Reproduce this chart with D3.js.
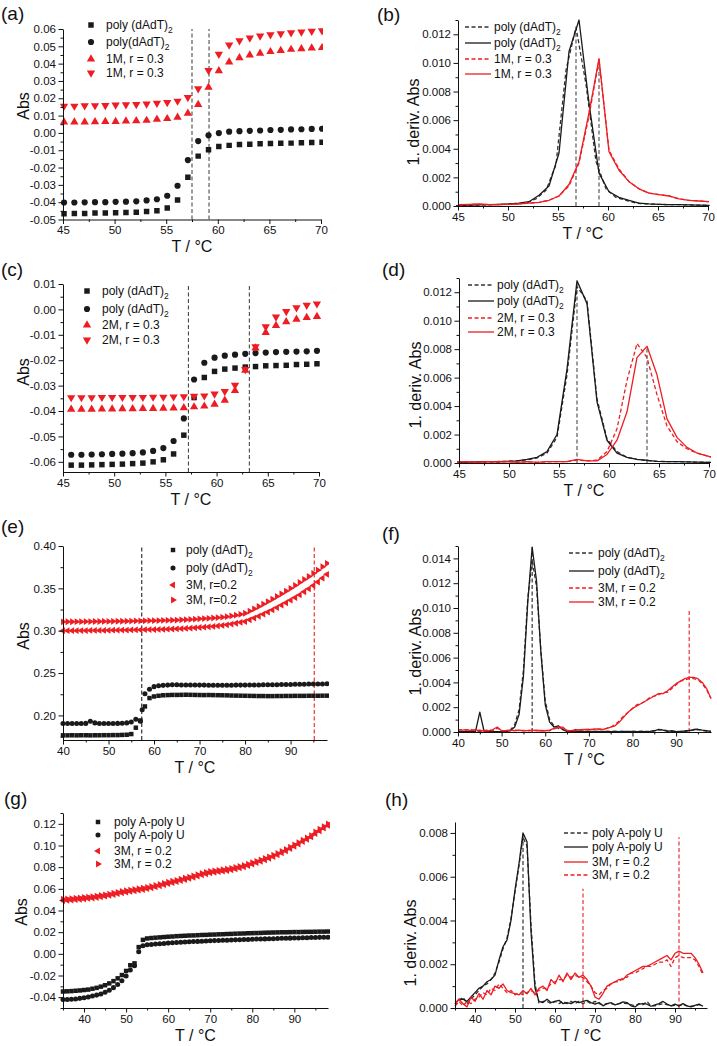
<!DOCTYPE html>
<html><head><meta charset="utf-8">
<script src="https://cdn.jsdelivr.net/npm/d3@7"></script>
<style>
body{margin:0;background:#fff;}
svg{display:block;font-family:"Liberation Sans",Arial,sans-serif;}
</style></head><body>
<svg id="c" width="717" height="1046"></svg>
<script>
// ---------------- DATA ----------------
// (a)
const aT = [45.1,46.1,47.1,48.1,49.1,50.1,51.1,52.1,53.1,54.1,55.1,56.1,57.1,58.1,59.1,60.1,61.1,62.1,63.1,64.1,65.1,66.1,67.1,68.1,69.1,70.1];
const aSquare = [-0.0467,-0.0466,-0.0466,-0.0463,-0.0462,-0.0461,-0.0460,-0.0458,-0.0454,-0.0449,-0.0434,-0.0387,-0.0256,-0.0134,-0.0097,-0.0078,-0.0072,-0.0067,-0.0065,-0.0063,-0.0061,-0.0060,-0.0059,-0.0057,-0.0055,-0.0054];
const aCircle = [-0.0402,-0.0402,-0.0401,-0.0400,-0.0400,-0.0398,-0.0397,-0.0395,-0.0390,-0.0383,-0.0363,-0.0305,-0.0157,-0.0047,-0.0014,-0.0001,0.0007,0.0010,0.0012,0.0014,0.0017,0.0018,0.0020,0.0021,0.0023,0.0024];
const aUp = [0.0062,0.0062,0.0063,0.0064,0.0065,0.0066,0.0068,0.0070,0.0072,0.0078,0.0082,0.0090,0.0113,0.0163,0.0263,0.0359,0.0409,0.0434,0.0450,0.0459,0.0469,0.0475,0.0482,0.0486,0.0490,0.0492];
const aDown = [0.0155,0.0155,0.0157,0.0158,0.0159,0.0161,0.0163,0.0165,0.0167,0.0172,0.0176,0.0184,0.0205,0.0255,0.0361,0.0455,0.0508,0.0533,0.0548,0.0560,0.0567,0.0573,0.0579,0.0583,0.0588,0.0590];
const aVlines = [57.5, 59.15];
const aLabels = [["poly (dAdT)","2"],["poly(dAdT)","2"],["1M, r = 0.3",""],["1M, r = 0.3",""]];
// (b)
const bT = [45.1,46.1,47.1,48.1,49.1,50.1,51.1,52.1,53.1,54.1,55.1,56.1,57.1,58.1,59.1,60.1,61.1,62.1,63.1,64.1,65.1,66.1,67.1,68.1,69.1,70.1];
const bTd = [44.8,45.8,46.8,47.8,48.8,49.8,50.8,51.8,52.8,53.8,54.8,55.8,56.8,57.8,58.8,59.8,60.8,61.8,62.8,63.8,64.8,65.8,66.8,67.8,68.8,69.8,70.8];
const bBlackDash = [0.00003,0.00005,0.00006,0.00008,0.0001,0.00012,0.00015,0.0002,0.0005,0.0011,0.0029,0.0095,0.0125,0.0085,0.0031,0.0012,0.0006,0.0004,0.0002,0.00015,0.00012,0.0001,0.0001,0.00008,0.00006,0.00005,0.00005];
const bBlackSolid = [0.00005,0.00006,0.00008,0.0001,0.00012,0.00015,0.0002,0.0003,0.00075,0.0014,0.0037,0.0108,0.0130,0.0072,0.0023,0.0010,0.0006,0.0004,0.0002,0.00015,0.00012,0.0001,0.0001,0.00008,0.00006,0.00005];
const bRedDash = [0.00008,0.0001,0.00012,0.0001,0.0001,0.00012,0.00015,0.0002,0.00025,0.0004,0.0007,0.0014,0.0030,0.0063,0.0102,0.0039,0.0026,0.0017,0.0012,0.0009,0.0008,0.0007,0.0005,0.0004,0.00035,0.0003];
const bRedSolid = [0.0001,0.00012,0.00015,0.0001,0.0001,0.00012,0.00015,0.0002,0.00025,0.0004,0.0007,0.0015,0.0031,0.0065,0.0103,0.0038,0.0025,0.0017,0.0012,0.0009,0.0008,0.0007,0.0005,0.0004,0.00035,0.0003];
const bVlines = [[56.8, 0.0123], [59.1, 0.0103]];
const bLabels = [["poly (dAdT)","2"],["poly (dAdT)","2"],["1M, r = 0.3",""],["1M, r = 0.3",""]];
// (c)
const cT = [45.8,46.8,47.8,48.8,49.8,50.8,51.8,52.8,53.8,54.8,55.8,56.8,57.8,58.8,59.8,60.8,61.8,62.8,63.8,64.8,65.8,66.8,67.8,68.8,69.8];
const cSquare = [-0.0613,-0.0613,-0.0612,-0.0611,-0.0610,-0.0609,-0.0607,-0.0605,-0.0600,-0.0592,-0.0569,-0.0495,-0.0347,-0.0268,-0.0244,-0.0235,-0.0231,-0.0227,-0.0225,-0.0222,-0.0221,-0.0220,-0.0217,-0.0216,-0.0214];
const cCircle = [-0.0572,-0.0572,-0.0571,-0.0570,-0.0569,-0.0568,-0.0566,-0.0563,-0.0557,-0.0546,-0.0518,-0.0429,-0.0276,-0.0210,-0.0190,-0.0182,-0.0178,-0.0175,-0.0172,-0.0170,-0.0168,-0.0167,-0.0166,-0.0165,-0.0163];
const cUp = [-0.0393,-0.0393,-0.0393,-0.0392,-0.0392,-0.0391,-0.0391,-0.0390,-0.0390,-0.0389,-0.0388,-0.0387,-0.0384,-0.0381,-0.0374,-0.0358,-0.0320,-0.0240,-0.0152,-0.0091,-0.0064,-0.0049,-0.0039,-0.0032,-0.0028];
const cDown = [-0.0347,-0.0347,-0.0347,-0.0346,-0.0346,-0.0346,-0.0346,-0.0346,-0.0345,-0.0345,-0.0344,-0.0343,-0.0341,-0.0340,-0.0333,-0.0323,-0.0298,-0.0236,-0.0147,-0.0068,-0.0030,-0.0008,0.0007,0.0017,0.0022];
const cVlines = [57.25, 63.2];
const cLabels = [["poly (dAdT)","2"],["poly (dAdT)","2"],["2M, r = 0.3",""],["2M, r = 0.3",""]];
// (d)
const dT = [44.8,45.8,46.8,47.8,48.8,49.8,50.8,51.8,52.8,53.8,54.8,55.8,56.8,57.8,58.8,59.8,60.8,61.8,62.8,63.8,64.8,65.8,66.8,67.8,68.8,69.8,70.8];
const dBlackDash = [0.00004,0.00005,0.00006,0.00008,0.0001,0.00012,0.00015,0.00022,0.00035,0.0007,0.0018,0.0062,0.0124,0.0114,0.0045,0.0017,0.0008,0.0004,0.00025,0.00018,0.00012,0.0001,0.0001,0.00008,0.00006,0.00005,0.00005];
const dBlackSolid = [0.00005,0.00006,0.00008,0.0001,0.0001,0.00012,0.00015,0.00025,0.0004,0.0008,0.0020,0.0066,0.0128,0.0112,0.0043,0.0016,0.0007,0.0004,0.00025,0.00018,0.00012,0.0001,0.0001,0.00008,0.00006,0.00005,0.00005];
const dRedDash = [0.00005,0.0001,0.00005,0.00008,0.00005,0.0001,0.00005,0.00008,0.00005,0.00008,0.0001,0.0001,0.0002,0.00015,0.0002,0.0008,0.0024,0.0058,0.0084,0.0074,0.0048,0.0026,0.0015,0.0010,0.0007,0.0005,0.0003];
const dRedSolid = [0.0001,0.0001,0.00005,0.0001,0.00008,0.0001,0.00005,0.0001,0.00005,0.0001,0.0001,0.0001,0.00025,0.00015,0.00015,0.0006,0.0016,0.0036,0.0074,0.0082,0.0062,0.0031,0.0018,0.0011,0.0007,0.0005,0.0003];
const dVlines = [[56.8, 0.0128], [63.8, 0.0082]];
const dLabels = [["poly (dAdT)","2"],["poly (dAdT)","2"],["2M, r = 0.3",""],["2M, r = 0.3",""]];
// (e)
const eT = [40,41,42,43,44,45,46,47,48,49,50,51,52,53,54,55,56,57,58,59,60,61,62,63,64,65,66,67,68,69,70,71,72,73,74,75,76,77,78,79,80,81,82,83,84,85,86,87,88,89,90,91,92,93,94,95,96,97,98];
const eCircT = [40,41,42,43,44,45,46,47,48,49,50,51,52,53,54,55,56,57,57.4,58,59,60,61,62,63,64,65,66,67,68,69,70,71,72,73,74,75,76,77,78,79,80,81,82,83,84,85,86,87,88,89,90,91,92,93,94,95,96,97,98];
const eSquare = [0.1765,0.1765,0.1766,0.1765,0.1766,0.1766,0.1765,0.1766,0.1766,0.1767,0.1767,0.1768,0.1768,0.1770,
 0.1772,0.1780,0.1855,0.1940,0.2106,0.2205,0.2224,0.2232,0.2238,0.2240,
 0.2242,0.2242,0.2243,0.2244,0.2243,0.2242,0.2241,0.2240,0.2241,0.2240,
 0.2239,0.2238,0.2237,0.2235,0.2234,0.2233,0.2232,0.2231,0.2230,0.2229,
 0.2229,0.2228,0.2228,0.2229,0.2229,0.2230,0.2230,0.2231,0.2231,0.2231,
 0.2232,0.2232,0.2232,0.2233,0.2233];
const eCircle = [0.1905,0.1905,0.1904,0.1905,0.1905,0.1906,0.1932,0.1912,0.1905,0.1905,
 0.1904,0.1905,0.1906,0.1907,0.1912,0.1922,0.1955,0.1932,
 0.2068,
 0.2255,0.2310,0.2340,0.2350,0.2355,0.2358,0.2362,0.2361,0.2360,0.2360,
 0.2359,0.2359,0.2358,0.2358,0.2357,0.2357,0.2357,0.2357,0.2357,0.2357,
 0.2358,0.2358,0.2358,0.2359,0.2359,0.2360,0.2361,0.2361,0.2362,0.2363,
 0.2364,0.2365,0.2366,0.2367,0.2368,0.2369,0.2370,0.2370,0.2371,0.2372,0.2373];
const eLeft = [0.3000,0.3000,0.3001,0.3001,0.3002,0.3002,0.3003,0.3003,0.3004,0.3004,
 0.3005,0.3006,0.3006,0.3007,0.3008,0.3009,0.3010,0.3011,0.3012,0.3013,
 0.3014,0.3015,0.3017,0.3018,0.3020,0.3022,0.3024,0.3027,0.3030,0.3034,
 0.3038,0.3042,0.3046,0.3051,0.3057,0.3063,0.3070,0.3078,0.3088,0.3099,
 0.3108,0.3128,0.3149,0.3171,0.3195,0.3220,0.3246,0.3273,0.3301,0.3330,
 0.3360,0.3391,0.3423,0.3460,0.3495,0.3533,0.3575,0.3620,0.3666];
const eRight = [0.3105,0.3106,0.3106,0.3107,0.3107,0.3108,0.3108,0.3109,0.3109,0.3110,
 0.3110,0.3111,0.3112,0.3112,0.3113,0.3114,0.3115,0.3116,0.3117,0.3118,
 0.3119,0.3120,0.3121,0.3123,0.3124,0.3126,0.3128,0.3130,0.3133,0.3136,
 0.3140,0.3143,0.3146,0.3150,0.3155,0.3160,0.3166,0.3174,0.3183,0.3194,
 0.3206,0.3232,0.3259,0.3286,0.3315,0.3344,0.3374,0.3405,0.3436,0.3468,
 0.3500,0.3535,0.3570,0.3605,0.3640,0.3677,0.3715,0.3755,0.3796];
const eVlines = [57.3, 95.2];
const eLabels = [["poly (dAdT)","2"],["poly (dAdT)","2"],["3M, r=0.2",""],["3M, r=0.2",""]];
// (f)
const fT = [40,41,42,43,44,45,46,47,48,49,50,51,52,53,54,55,56,57,58,59,60,61,62,63,64,65,66,67,68,69,70,71,72,73,74,75,76,77,78,79,80,81,82,83,84,85,86,87,88,89,90,91,92,93,94,95,96,97,98];
const fBlackDash = [0.00002,0.00003,0.00002,0.00003,0.00002,0.00003,0.00002,0.00003,0.00002,0.00003,
 0.00003,0.00006,0.00015,0.0006,0.0018,0.0050,0.0108,0.0139,0.0117,0.0066,
 0.0025,0.0010,0.0005,0.0003,0.0002,0.00005,0.0001,0.0002,0.00008,0.00004,
 0.00004,0.00005,0.00004,0.00005,0.00004,0.00005,0.00004,0.00005,0.00004,0.00005,
 0.00004,0.00005,0.00004,0.00005,0.00004,0.0001,0.00015,0.0002,0.0001,0.00005,
 0.00005,0.00004,0.00006,0.0001,0.00015,0.0002,0.00012,0.00008,0.00005];
const fBlackSolid = [0.00003,0.00002,0.00003,0.00002,0.00003,0.0016,0.00002,0.00003,0.00002,0.00003,
 0.00002,0.00005,0.0001,0.0004,0.0014,0.0045,0.0105,0.0149,0.0122,0.0064,
 0.0022,0.0008,0.0004,0.0005,0.0002,0.00003,0.00005,0.00003,0.00005,0.00003,
 0.00005,0.00003,0.00005,0.00003,0.00005,0.00003,0.00005,0.00003,0.00005,0.00003,
 0.00005,0.00003,0.00005,0.00003,0.00005,0.0001,0.00022,0.00015,0.00005,0.0001,
 0.00003,0.00005,0.00008,0.00012,0.0002,0.00022,0.00015,0.0001,0.00005];
const fRedDash = [0.00015,0.0002,0.00015,0.0002,0.00012,0.00015,0.0001,0.00015,0.0001,0.0003,
 0.00012,0.0001,0.00012,0.00015,0.0001,0.00012,0.0001,0.00012,0.00015,0.0001,
 0.00012,0.0001,0.00025,0.00035,0.0003,0.00012,0.0001,0.00012,0.00015,0.00018,
 0.0002,0.0002,0.00022,0.00025,0.0003,0.0004,0.0006,0.0009,0.0013,0.0016,
 0.0019,0.0022,0.0023,0.0025,0.0028,0.0029,0.0030,0.0032,0.0032,0.0035,
 0.0038,0.0041,0.0042,0.0043,0.0043,0.0042,0.0039,0.0034,0.0027];
const fRedSolid = [0.0002,0.00015,0.0002,0.00012,0.0002,0.00008,0.00012,0.0001,0.0002,0.0004,
 0.0001,0.00012,0.00015,0.0001,0.00015,0.0001,0.00012,0.00015,0.0001,0.00012,
 0.0001,0.00015,0.0003,0.0004,0.0004,0.0001,0.00012,0.00015,0.00018,0.0002,
 0.0002,0.00022,0.00025,0.0002,0.00028,0.0004,0.0005,0.0008,0.0012,0.0016,
 0.0019,0.0021,0.0023,0.0025,0.0027,0.0029,0.0031,0.0031,0.0033,0.0036,
 0.0039,0.0041,0.0043,0.0044,0.0044,0.0043,0.0040,0.0035,0.0027];
const fVlines = [[57, 0.0149], [93, 0.0099]];
const fLabels = [["poly (dAdT)","2"],["poly (dAdT)","2"],["3M, r = 0.2",""],["3M, r = 0.2",""]];
// (g)
const gT = [35,36,37,38,39,40,41,42,43,44,45,46,47,48,49,50,51,52,53,54,55,56,57,58,59,60,61,62,63,64,65,66,67,68,69,70,71,72,73,74,75,76,77,78,79,80,81,82,83,84,85,86,87,88,89,90,91,92,93,94,95,96,97,98];
const gSquare = [-0.0348,-0.0346,-0.0344,-0.0341,-0.0338,-0.0334,-0.0330,-0.0322,-0.0314,-0.0303,
 -0.0290,-0.0273,-0.0252,-0.0226,-0.0196,-0.0158,-0.0105,-0.0088,0.0062,0.0129,
 0.0142,0.0146,0.0149,0.0152,0.0155,0.0158,0.0160,0.0163,0.0165,0.0167,
 0.0169,0.0170,0.0172,0.0174,0.0175,0.0177,0.0178,0.0180,0.0181,0.0183,
 0.0184,0.0186,0.0187,0.0188,0.0190,0.0191,0.0192,0.0193,0.0195,0.0196,
 0.0197,0.0198,0.0199,0.0199,0.0200,0.0201,0.0201,0.0202,0.0203,0.0203,
 0.0204,0.0205,0.0205,0.0206];
const gCircle = [-0.0422,-0.0421,-0.0419,-0.0416,-0.0411,-0.0405,-0.0398,-0.0390,-0.0381,-0.0370,
 -0.0355,-0.0336,-0.0312,-0.0283,-0.0248,-0.0205,-0.0150,-0.0110,0.0020,0.0075,
 0.0083,0.0087,0.0090,0.0093,0.0096,0.0099,0.0102,0.0104,0.0107,0.0109,
 0.0111,0.0113,0.0115,0.0117,0.0119,0.0120,0.0122,0.0123,0.0125,0.0126,
 0.0128,0.0129,0.0130,0.0132,0.0133,0.0134,0.0136,0.0137,0.0138,0.0139,
 0.0140,0.0142,0.0143,0.0144,0.0145,0.0146,0.0147,0.0148,0.0149,0.0150,
 0.0151,0.0152,0.0153,0.0154];
const gLeft = [0.0492,0.0494,0.0497,0.0500,0.0503,0.0507,0.0511,0.0515,0.0520,0.0526,
 0.0532,0.0539,0.0547,0.0555,0.0563,0.0570,0.0576,0.0582,0.0588,0.0594,
 0.0601,0.0609,0.0618,0.0628,0.0638,0.0648,0.0657,0.0666,0.0676,0.0686,
 0.0696,0.0707,0.0718,0.0729,0.0739,0.0747,0.0753,0.0758,0.0763,0.0769,
 0.0776,0.0784,0.0793,0.0803,0.0815,0.0828,0.0841,0.0854,0.0868,0.0882,
 0.0897,0.0914,0.0932,0.0951,0.0972,0.0993,0.1014,0.1036,0.1057,0.1079,
 0.1110,0.1135,0.1160,0.1185];
const gRight = [0.0505,0.0507,0.0510,0.0513,0.0516,0.0520,0.0524,0.0528,0.0533,0.0539,
 0.0545,0.0552,0.0560,0.0568,0.0576,0.0583,0.0589,0.0595,0.0601,0.0607,
 0.0614,0.0622,0.0631,0.0641,0.0651,0.0661,0.0670,0.0679,0.0689,0.0699,
 0.0709,0.0720,0.0731,0.0742,0.0752,0.0760,0.0766,0.0771,0.0776,0.0782,
 0.0789,0.0797,0.0806,0.0816,0.0828,0.0841,0.0854,0.0867,0.0881,0.0895,
 0.0910,0.0927,0.0945,0.0964,0.0985,0.1006,0.1027,0.1049,0.1070,0.1092,
 0.1125,0.1150,0.1175,0.1200];
const gLabels = [["poly A-poly U",""],["poly A-poly U",""],["3M, r = 0.2",""],["3M, r = 0.2",""]];
// (h)
const hT = [35,36,37,38,39,40,41,42,43,44,45,46,47,48,49,50,51,52,53,54,55,56,57,58,59,60,61,62,63,64,65,66,67,68,69,70,71,72,73,74,75,76,77,78,79,80,81,82,83,84,85,86,87,88,89,90,91,92,93,94,95,96,97];
const hBlackDash = [0.0001,0.0003,0.0005,0.0002,0.0004,0.0006,0.0008,0.0010,0.0011,0.0013,
 0.0016,0.0021,0.0027,0.0032,0.0041,0.0053,0.0065,0.0078,0.0074,0.0038,
 0.0011,0.0002,0.0003,0.0003,0.0002,0.0003,0.0002,0.0003,0.0002,0.0003,
 0.0002,0.0003,0.0002,0.0003,0.0002,0.0003,0.0002,0.00015,0.0002,0.0002,
 0.00015,0.0002,0.00022,0.0002,0.00015,0.0001,0.0002,0.00015,0.0003,0.0001,
 0.0001,0.00015,0.0002,0.00015,0.0001,0.00012,0.0001,0.00015,0.0001,0.00008,
 0.0001,0.00015,0.0001];
const hBlackSolid = [0.0002,0.0004,0.0004,0.0003,0.0005,0.0007,0.0009,0.0010,0.0012,0.0013,
 0.0015,0.0022,0.0028,0.0031,0.0040,0.0054,0.0066,0.0080,0.0076,0.0035,
 0.0009,0.0003,0.00025,0.0004,0.00025,0.0003,0.00035,0.0002,0.00025,0.0002,
 0.0003,0.00025,0.0003,0.00035,0.00025,0.00018,0.00025,0.0001,0.0002,0.00025,
 0.00014,0.0002,0.00028,0.00025,0.0001,0.00005,0.00018,0.0002,0.00018,0.00008,
 0.00014,0.0002,0.0003,0.00018,0.0001,0.00018,0.0001,0.0002,0.0001,0.00005,
 0.00012,0.00018,0.00008];
const hRedSolid = [0.0002,0.0004,0.0002,0.00005,0.0005,0.0003,0.00066,0.0004,0.0008,0.0006,
 0.0010,0.0009,0.0011,0.0008,0.0007,0.00066,0.0006,0.0008,0.00065,0.0009,
 0.0006,0.0009,0.0010,0.0008,0.0013,0.0011,0.0015,0.0012,0.0016,0.0013,
 0.0016,0.0014,0.0015,0.0013,0.0010,0.0005,0.0004,0.00066,0.0010,0.0011,
 0.0012,0.0013,0.0013,0.0015,0.0016,0.0017,0.0018,0.0019,0.0019,0.0020,
 0.0021,0.0022,0.0023,0.0024,0.0022,0.0025,0.0026,0.0025,0.0025,0.0025,
 0.0023,0.0020,0.0016];
const hRedDash = [0.0001,0.0003,0.0001,0.0003,0.0002,0.0004,0.0005,0.0007,0.0006,0.0009,
 0.0008,0.0011,0.0009,0.0007,0.0008,0.0006,0.0007,0.0006,0.0007,0.0008,
 0.0007,0.0008,0.0009,0.0009,0.0011,0.0012,0.0013,0.0013,0.0015,0.0014,
 0.0015,0.0014,0.0014,0.0012,0.0010,0.0007,0.0006,0.0008,0.0009,0.0011,
 0.0012,0.0012,0.0014,0.0014,0.0016,0.0016,0.0017,0.0018,0.0019,0.0019,
 0.0020,0.0021,0.0021,0.0022,0.0019,0.0023,0.0024,0.0023,0.0023,0.0023,
 0.0022,0.0019,0.0015];
const hVlines = [[52, 0.0080], [67, 0.00545], [91, 0.0078]];
const hLabels = [["poly A-poly U",""],["poly A-poly U",""],["3M, r = 0.2",""],["3M, r = 0.2",""]];

// tick values
const ticksA = [-0.05,-0.04,-0.03,-0.02,-0.01,0,0.01,0.02,0.03,0.04,0.05,0.06];
const ticksC = [-0.06,-0.05,-0.04,-0.03,-0.02,-0.01,0,0.01];
const ticksE = [0.20,0.25,0.30,0.35,0.40];
const ticksG = [-0.04,-0.02,0,0.02,0.04,0.06,0.08,0.10,0.12];
const ticksD12 = [0,0.002,0.004,0.006,0.008,0.010,0.012];
const ticksD14 = [0,0.002,0.004,0.006,0.008,0.010,0.012,0.014];
const ticksD8 = [0,0.002,0.004,0.006,0.008];
const xTicks45 = [45,50,55,60,65,70];
const xTicks40 = [40,50,60,70,80,90];

// ---------------- DRAWING ----------------
const RED = "#ee1d23", BLK = "#1a1a1a", GRY = "#4a4a4a";
const svg = d3.select("#c");
const defs = svg.append("defs");

const symTypes = {square:d3.symbolSquare, circle:d3.symbolCircle, up:d3.symbolTriangle, down:d3.symbolTriangle, left:d3.symbolTriangle, right:d3.symbolTriangle};
const symRot = {square:0, circle:0, up:0, down:180, left:-90, right:90};
const fmt = (d, n) => { let s = d.toFixed(n); if (+s === 0) s = (0).toFixed(n); return s; };

function minors(major, dom){
  const st = major[1]-major[0];
  const out = [];
  for (let i=0;i<major.length-1;i++) out.push((major[i]+major[i+1])/2);
  const lo = major[0]-st/2, hi = major[major.length-1]+st/2;
  if (lo >= Math.min(...dom)-1e-9) out.push(lo);
  if (hi <= Math.max(...dom)+1e-9) out.push(hi);
  return out;
}

function addLabel(sel, lab){
  sel.text(lab[0]);
  if (lab[1]) sel.append("tspan").attr("dy", 3.5).attr("font-size", 8.5).text(lab[1]);
}

function drawPanel(P){
  const x = d3.scaleLinear().domain(P.xd).range([P.l, P.r]);
  const y = d3.scaleLinear().domain(P.yd).range([P.b, P.t]);
  const g = svg.append("g");
  const cid = "clip" + P.name;
  defs.append("clipPath").attr("id", cid).append("rect")
    .attr("x", P.l - 4).attr("y", P.t - 4).attr("width", P.r - P.l + 6).attr("height", P.b - P.t + 4);
  const plot = g.append("g").attr("clip-path", `url(#${cid})`);

  (P.vlines || []).forEach(v => {
    plot.append("line").attr("x1", x(v.x)).attr("x2", x(v.x))
      .attr("y1", y(v.y0 !== undefined ? v.y0 : P.yd[0])).attr("y2", y(v.y1 !== undefined ? v.y1 : P.yd[1]))
      .attr("stroke", v.color).attr("stroke-width", 1.1).attr("stroke-dasharray", "4,2.5");
  });

  P.series.forEach(s => {
    const pts = s.T.map((t,i) => [t, s.V[i]]);
    if (s.kind === "line"){
      plot.append("path").datum(pts)
        .attr("d", d3.line().x(d => x(d[0])).y(d => y(d[1])))
        .attr("fill","none").attr("stroke", s.color).attr("stroke-width", 1.3)
        .attr("stroke-linejoin","round")
        .attr("stroke-dasharray", s.dash ? "4,2.5" : null);
    } else {
      const sp = d3.symbol().type(symTypes[s.sym]).size(s.size)();
      plot.append("g").selectAll("path").data(pts).join("path")
        .attr("d", sp)
        .attr("transform", d => `translate(${x(d[0])},${y(d[1])}) rotate(${symRot[s.sym]})`)
        .attr("fill", s.color);
    }
  });

  // axes
  g.append("g").attr("transform", `translate(${P.l},0)`)
    .call(d3.axisLeft(y).tickValues(P.yt).tickSize(4.5).tickSizeOuter(0).tickPadding(2.5).tickFormat(d => fmt(d, P.yDec)));
  g.append("g").attr("transform", `translate(${P.l},0)`)
    .call(d3.axisLeft(y).tickValues(minors(P.yt, P.yd)).tickSize(2.5).tickFormat(""))
    .call(a => a.select(".domain").remove());
  g.append("g").attr("transform", `translate(0,${P.b})`)
    .call(d3.axisBottom(x).tickValues(P.xt).tickSize(4.5).tickSizeOuter(0).tickPadding(2).tickFormat(d => d));
  g.append("g").attr("transform", `translate(0,${P.b})`)
    .call(d3.axisBottom(x).tickValues(minors(P.xt, P.xd)).tickSize(2.5).tickFormat(""))
    .call(a => a.select(".domain").remove());
  g.selectAll(".tick text").attr("font-size", 11.5).attr("fill", "#111");
  g.selectAll(".domain, .tick line").attr("stroke", "#111");
  g.selectAll("g").attr("font-family", null).attr("font-size", null);

  // titles
  g.append("text").attr("x", (P.l + P.r)/2).attr("y", P.b + 32.5).attr("text-anchor","middle")
    .attr("font-size", 16).attr("fill","#111").text("T / °C");
  g.append("text").attr("transform", `translate(${P.yTitleX},${P.yTitleY}) rotate(-90)`)
    .attr("text-anchor","middle").attr("dominant-baseline","central")
    .attr("font-size", 16).attr("fill","#111").text(P.yTitle);
  g.append("text").attr("x", P.tagX).attr("y", P.tagY).attr("font-size", 19).attr("fill","#111").text(P.tag);

  // legend
  P.series.forEach((s, i) => {
    const ry = P.leg.rows[i];
    if (s.kind === "line"){
      g.append("line").attr("x1", P.leg.x1).attr("x2", P.leg.x2).attr("y1", ry).attr("y2", ry)
        .attr("stroke", s.color).attr("stroke-width", 1.3).attr("stroke-dasharray", s.dash ? "4,2.5" : null);
    } else {
      g.append("path").attr("d", d3.symbol().type(symTypes[s.sym]).size(s.legSize || s.size)())
        .attr("transform", `translate(${P.leg.mx},${ry}) rotate(${symRot[s.sym]})`).attr("fill", s.color);
    }
    const t = g.append("text").attr("x", P.leg.tx).attr("y", ry + 4.2).attr("font-size", 12).attr("fill","#111");
    addLabel(t, s.label);
  });
}

const MS = 30, MS2 = 20;
const panels = [
  {name:"a", tag:"(a)", tagX:1, tagY:20, l:63, r:321, t:29, b:219.5, xd:[45,70], yd:[-0.05,0.06], xt:xTicks45, yt:ticksA, yDec:2,
   yTitle:"Abs", yTitleX:23, yTitleY:106,
   vlines: aVlines.map(v => ({x:v, color:GRY})),
   leg:{mx:91, tx:106, rows:[25,42,59,73]},
   series:[
     {kind:"m", sym:"square", size:MS, color:BLK, T:aT, V:aSquare, label:aLabels[0]},
     {kind:"m", sym:"circle", size:MS, color:BLK, T:aT, V:aCircle, label:aLabels[1]},
     {kind:"m", sym:"up", size:MS, color:RED, T:aT, V:aUp, label:aLabels[2]},
     {kind:"m", sym:"down", size:MS, color:RED, T:aT, V:aDown, label:aLabels[3]}]},
  {name:"b", tag:"(b)", tagX:377, tagY:21, l:458, r:708, t:20, b:206, xd:[45,70], yd:[0,0.013], xt:xTicks45, yt:ticksD12, yDec:3,
   yTitle:"1. deriv. Abs", yTitleX:413, yTitleY:122,
   vlines: bVlines.map(v => ({x:v[0], y0:0, y1:v[1], color:GRY})),
   leg:{x1:465, x2:491, tx:494, rows:[27,43,59,74]},
   series:[
     {kind:"line", dash:true, color:"#333", T:bTd, V:bBlackDash, label:bLabels[0]},
     {kind:"line", dash:false, color:BLK, T:bT, V:bBlackSolid, label:bLabels[1]},
     {kind:"line", dash:true, color:RED, T:bT, V:bRedDash, label:bLabels[2]},
     {kind:"line", dash:false, color:RED, T:bT, V:bRedSolid, label:bLabels[3]}]},
  {name:"c", tag:"(c)", tagX:1, tagY:276, l:63, r:319, t:284, b:472, xd:[45,70], yd:[-0.064,0.01], xt:xTicks45, yt:ticksC, yDec:2,
   yTitle:"Abs", yTitleX:23, yTitleY:372,
   vlines: cVlines.map(v => ({x:v, color:GRY})),
   leg:{mx:87, tx:102, rows:[291,309,325,340]},
   series:[
     {kind:"m", sym:"square", size:MS, color:BLK, T:cT, V:cSquare, label:cLabels[0]},
     {kind:"m", sym:"circle", size:MS, color:BLK, T:cT, V:cCircle, label:cLabels[1]},
     {kind:"m", sym:"up", size:MS, color:RED, T:cT, V:cUp, label:cLabels[2]},
     {kind:"m", sym:"down", size:MS, color:RED, T:cT, V:cDown, label:cLabels[3]}]},
  {name:"d", tag:"(d)", tagX:382, tagY:276, l:459, r:709, t:278, b:463, xd:[45,70], yd:[0,0.013], xt:xTicks45, yt:ticksD12, yDec:3,
   yTitle:"1. deriv. Abs", yTitleX:415, yTitleY:385,
   vlines: dVlines.map(v => ({x:v[0], y0:0, y1:v[1], color:GRY})),
   leg:{x1:468, x2:494, tx:497, rows:[285,301,318,332]},
   series:[
     {kind:"line", dash:true, color:"#333", T:dT, V:dBlackDash, label:dLabels[0]},
     {kind:"line", dash:false, color:BLK, T:dT, V:dBlackSolid, label:dLabels[1]},
     {kind:"line", dash:true, color:RED, T:dT, V:dRedDash, label:dLabels[2]},
     {kind:"line", dash:false, color:RED, T:dT, V:dRedSolid, label:dLabels[3]}]},
  {name:"e", tag:"(e)", tagX:1, tagY:533, l:63, r:327, t:546, b:740, xd:[40,98], yd:[0.171,0.40], xt:xTicks40, yt:ticksE, yDec:2,
   yTitle:"Abs", yTitleX:23, yTitleY:636,
   vlines: [{x:eVlines[0], color:"#222"}, {x:eVlines[1], color:RED}],
   leg:{mx:173, tx:186, rows:[550,568,585,600]},
   series:[
     {kind:"m", sym:"square", size:MS2, color:BLK, T:eT, V:eSquare, label:eLabels[0]},
     {kind:"m", sym:"circle", size:MS2, color:BLK, T:eCircT, V:eCircle, label:eLabels[1]},
     {kind:"m", sym:"left", size:MS2, color:RED, T:eT, V:eLeft, label:eLabels[2]},
     {kind:"m", sym:"right", size:MS2, color:RED, T:eT, V:eRight, label:eLabels[3]}]},
  {name:"f", tag:"(f)", tagX:382, tagY:540, l:458, r:711, t:546, b:732, xd:[40,98], yd:[0,0.015], xt:xTicks40, yt:ticksD14, yDec:3,
   yTitle:"1. deriv. Abs", yTitleX:415, yTitleY:652,
   vlines: [{x:fVlines[0][0], y0:0, y1:fVlines[0][1], color:"#222"}, {x:fVlines[1][0], y0:0, y1:fVlines[1][1], color:RED}],
   leg:{x1:569, x2:594, tx:598, rows:[553,571,588,602]},
   series:[
     {kind:"line", dash:true, color:"#333", T:fT, V:fBlackDash, label:fLabels[0]},
     {kind:"line", dash:false, color:BLK, T:fT, V:fBlackSolid, label:fLabels[1]},
     {kind:"line", dash:true, color:RED, T:fT, V:fRedDash, label:fLabels[2]},
     {kind:"line", dash:false, color:RED, T:fT, V:fRedSolid, label:fLabels[3]}]},
  {name:"g", tag:"(g)", tagX:4, tagY:805, l:63, r:328, t:813, b:1008, xd:[35,98], yd:[-0.05,0.13], xt:xTicks40, yt:ticksG, yDec:2,
   yTitle:"Abs", yTitleX:21, yTitleY:912,
   vlines: [],
   leg:{mx:98, tx:114, rows:[822,835,851,864]},
   series:[
     {kind:"m", sym:"square", size:MS2, color:BLK, T:gT, V:gSquare, label:gLabels[0]},
     {kind:"m", sym:"circle", size:MS2, color:BLK, T:gT, V:gCircle, label:gLabels[1]},
     {kind:"m", sym:"left", size:MS2, color:RED, T:gT, V:gLeft, label:gLabels[2]},
     {kind:"m", sym:"right", size:MS2, color:RED, T:gT, V:gRight, label:gLabels[3]}]},
  {name:"h", tag:"(h)", tagX:385, tagY:806, l:455, r:707, t:822, b:1008, xd:[35,98], yd:[0,0.0085], xt:xTicks40, yt:ticksD8, yDec:3,
   yTitle:"1. deriv. Abs", yTitleX:410, yTitleY:943,
   vlines: [{x:hVlines[0][0], y0:0, y1:hVlines[0][1], color:"#222"}, {x:hVlines[1][0], y0:0, y1:hVlines[1][1], color:RED}, {x:hVlines[2][0], y0:0, y1:hVlines[2][1], color:RED}],
   leg:{x1:564, x2:588, tx:592, rows:[833,847,862,875]},
   series:[
     {kind:"line", dash:true, color:"#333", T:hT, V:hBlackDash, label:hLabels[0]},
     {kind:"line", dash:false, color:BLK, T:hT, V:hBlackSolid, label:hLabels[1]},
     {kind:"line", dash:false, color:RED, T:hT, V:hRedSolid, label:hLabels[2]},
     {kind:"line", dash:true, color:RED, T:hT, V:hRedDash, label:hLabels[3]}]}
];
panels.forEach(drawPanel);
</script>
</body></html>
